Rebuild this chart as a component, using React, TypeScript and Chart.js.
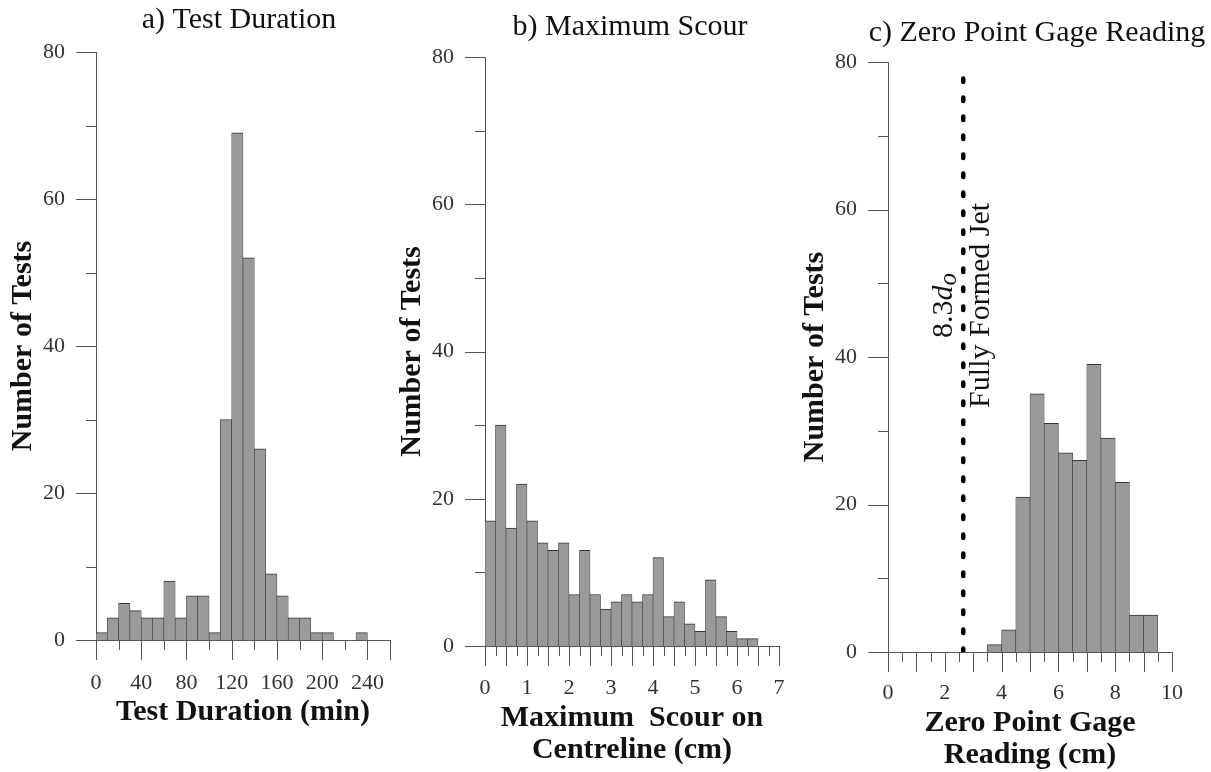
import React, { useEffect, useRef } from "react";
import { Chart, registerables } from "chart.js";

Chart.register(...registerables);

const PAGE_W = 1211;
const PAGE_H = 772;
const SERIF = '"Liberation Serif", "Times New Roman", serif';

// ---------- data ----------
// a) Test Duration: 10-min bins
const durationBinCentres = [5, 15, 25, 35, 45, 55, 65, 75, 85, 95, 105, 115, 125, 135, 145, 155, 165, 175, 185, 195, 205, 215, 225, 235, 245, 255];
const durationCounts = [1, 3, 5, 4, 3, 3, 8, 3, 6, 6, 1, 30, 69, 52, 26, 9, 6, 3, 3, 1, 1, 0, 0, 1, 0, 0];

// b) Maximum Scour: 0.25-cm bins
const scourBinCentres = [0.125, 0.375, 0.625, 0.875, 1.125, 1.375, 1.625, 1.875, 2.125, 2.375, 2.625, 2.875, 3.125, 3.375, 3.625, 3.875, 4.125, 4.375, 4.625, 4.875, 5.125, 5.375, 5.625, 5.875, 6.125, 6.375, 6.625, 6.875];
const scourCounts = [17, 30, 16, 22, 17, 14, 13, 14, 7, 13, 7, 5, 6, 7, 6, 7, 12, 4, 6, 3, 2, 9, 4, 2, 1, 1, 0, 0];

// c) Zero Point Gage Reading: 0.5-cm bins
const gageBinCentres = [0.25, 0.75, 1.25, 1.75, 2.25, 2.75, 3.25, 3.75, 4.25, 4.75, 5.25, 5.75, 6.25, 6.75, 7.25, 7.75, 8.25, 8.75, 9.25, 9.75];
const gageCounts = [0, 0, 0, 0, 0, 0, 0, 1, 3, 21, 35, 31, 27, 26, 39, 29, 23, 5, 5, 0];

// fully formed jet marker (8.3 d_o)
const jetMarkerX = 2.65;
const jetMarkerTop = 78;
const jetLabelY = 47;

// axis ranges / ticks
const countAxis = { min: 0, max: 80, step: 10, labelEvery: 20 };
const durationAxis = { min: 0, max: 260, step: 20, labelEvery: 40, majorEvery: 40 };
const scourAxis = { min: 0, max: 7, step: 0.25, labelEvery: 1, majorEvery: 0.5 };
const gageAxis = { min: 0, max: 10, step: 0.5, labelEvery: 2, majorEvery: 1 };

// ---------- styles ----------
const BAR_FILL = "#9a9a9a";
const BAR_EDGE = "#353535";
const AXIS_COLOR = "#555555";
const TICK_TEXT = "#333333";
const TEXT = "#111111";

const isMultiple = (v: number, m: number) => Math.abs(v / m - Math.round(v / m)) < 1e-6;

// draws long/short tick marks at every scale tick
const tickMarksPlugin = {
  id: "tickMarks",
  afterDraw(chart: any, _args: any, opts: any) {
    const { ctx, chartArea } = chart;
    const xs = chart.scales.x;
    const ys = chart.scales.y;
    ctx.save();
    ctx.strokeStyle = opts.color;
    ctx.lineWidth = 1;
    ctx.beginPath();
    xs.ticks.forEach((t: any) => {
      const px = Math.round(xs.getPixelForValue(t.value)) + 0.5;
      const major = isMultiple(t.value, opts.xMajor) || Math.abs(t.value - xs.max) < 1e-9;
      const len = major ? opts.long : opts.short;
      ctx.moveTo(px, chartArea.bottom);
      ctx.lineTo(px, chartArea.bottom + len);
    });
    ys.ticks.forEach((t: any) => {
      const py = Math.round(ys.getPixelForValue(t.value)) + 0.5;
      const len = isMultiple(t.value, opts.yMajor) ? opts.long : opts.short;
      ctx.moveTo(chartArea.left - len, py);
      ctx.lineTo(chartArea.left, py);
    });
    ctx.stroke();
    ctx.restore();
  },
};

// panel heading
const panelTitlePlugin = {
  id: "panelTitle",
  afterDraw(chart: any, _args: any, opts: any) {
    if (!opts.text) return;
    const { ctx } = chart;
    ctx.save();
    ctx.font = `normal 30px ${SERIF}`;
    ctx.fillStyle = TEXT;
    ctx.textAlign = "center";
    ctx.textBaseline = "middle";
    ctx.fillText(opts.text, opts.x, opts.y);
    ctx.restore();
  },
};

// rotated annotation next to the jet marker line
const jetLabelPlugin = {
  id: "jetLabel",
  afterDraw(chart: any, _args: any, opts: any) {
    if (!opts.show) return;
    const { ctx } = chart;
    const px = chart.scales.x.getPixelForValue(opts.value);
    const py = chart.scales.y.getPixelForValue(opts.yValue);
    ctx.save();
    ctx.fillStyle = TEXT;
    ctx.textBaseline = "middle";

    // "8.3 d_o" left of the line
    ctx.save();
    ctx.translate(px - 19, py);
    ctx.rotate(-Math.PI / 2);
    const f1 = `normal 30px ${SERIF}`;
    const f2 = `italic 30px ${SERIF}`;
    const f3 = `italic 25px ${SERIF}`;
    ctx.font = f1;
    const w1 = ctx.measureText("8.3").width;
    ctx.font = f2;
    const w2 = ctx.measureText("d").width;
    ctx.font = f3;
    const w3 = ctx.measureText("o").width;
    let cx = -(w1 + w2 + w3) / 2;
    ctx.textAlign = "left";
    ctx.font = f1;
    ctx.fillText("8.3", cx, 0);
    cx += w1;
    ctx.font = f2;
    ctx.fillText("d", cx, 0);
    cx += w2;
    ctx.font = f3;
    ctx.fillText("o", cx, 5);
    ctx.restore();

    // "Fully Formed Jet" right of the line
    ctx.save();
    ctx.translate(px + 18, py);
    ctx.rotate(-Math.PI / 2);
    ctx.font = `normal 30px ${SERIF}`;
    ctx.textAlign = "center";
    ctx.fillText("Fully Formed Jet", 0, 0);
    ctx.restore();

    ctx.restore();
  },
};

type PanelSpec = {
  centres: number[];
  counts: number[];
  xAxis: { min: number; max: number; step: number; labelEvery: number; majorEvery: number };
  padding: { left: number; right: number; top: number; bottom: number };
  yAxisWidth: number;
  yTitlePad: number;
  xAxisHeight: number;
  xTitle: string | string[];
  xTitlePad: number;
  xTickPad: number;
  title: { text: string; x: number; y: number };
  marker?: boolean;
};

function buildConfig(p: PanelSpec): any {
  const datasets: any[] = [
    {
      type: "bar",
      data: p.centres.map((c, i) => ({ x: c, y: p.counts[i] })),
      backgroundColor: BAR_FILL,
      borderColor: BAR_EDGE,
      borderWidth: { left: 0.6, right: 0.6, top: 1, bottom: 0 },
      borderSkipped: false,
      categoryPercentage: 1,
      barPercentage: 1,
    },
  ];
  if (p.marker) {
    datasets.push({
      type: "line",
      data: [
        { x: jetMarkerX, y: 0 },
        { x: jetMarkerX, y: jetMarkerTop },
      ],
      borderColor: "#000000",
      borderWidth: 4.5,
      borderDash: [3.5, 15.5],
      borderCapStyle: "round",
      pointRadius: 0,
      fill: false,
    });
  }

  return {
    type: "bar",
    data: { datasets },
    plugins: [tickMarksPlugin, panelTitlePlugin, jetLabelPlugin],
    options: {
      responsive: false,
      animation: false,
      layout: { padding: p.padding },
      plugins: {
        legend: { display: false },
        tooltip: { enabled: false },
        title: { display: false },
        tickMarks: { xMajor: p.xAxis.majorEvery, yMajor: countAxis.labelEvery, long: 20, short: 10, color: AXIS_COLOR },
        panelTitle: p.title,
        jetLabel: { show: !!p.marker, value: jetMarkerX, yValue: jetLabelY },
      },
      scales: {
        x: {
          type: "linear",
          min: p.xAxis.min,
          max: p.xAxis.max,
          offset: false,
          grid: { display: false, drawTicks: false, offset: false },
          border: { display: true, color: AXIS_COLOR, width: 1 },
          ticks: {
            stepSize: p.xAxis.step,
            autoSkip: false,
            maxRotation: 0,
            minRotation: 0,
            padding: p.xTickPad,
            color: TICK_TEXT,
            font: { family: SERIF, size: 22 },
            callback: (v: any) => (isMultiple(Number(v), p.xAxis.labelEvery) ? String(Number(v)) : ""),
          },
          title: {
            display: true,
            text: p.xTitle,
            color: TEXT,
            font: { family: SERIF, size: 30, weight: "bold", lineHeight: 1.07 },
            padding: { top: 0, bottom: p.xTitlePad },
          },
          afterFit: (s: any) => {
            s.height = p.xAxisHeight;
          },
        },
        y: {
          type: "linear",
          min: countAxis.min,
          max: countAxis.max,
          grid: { display: false, drawTicks: false },
          border: { display: true, color: AXIS_COLOR, width: 1 },
          ticks: {
            stepSize: countAxis.step,
            autoSkip: false,
            padding: 31,
            color: TICK_TEXT,
            font: { family: SERIF, size: 22 },
            callback: (v: any) => (isMultiple(Number(v), countAxis.labelEvery) ? String(Number(v)) : ""),
          },
          title: {
            display: true,
            text: "Number of Tests",
            color: TEXT,
            font: { family: SERIF, size: 30, weight: "bold", lineHeight: 1.2 },
            padding: { top: p.yTitlePad, bottom: 0 },
          },
          afterFit: (s: any) => {
            s.width = p.yAxisWidth;
          },
        },
      },
    },
  };
}

const panels: PanelSpec[] = [
  {
    centres: durationBinCentres,
    counts: durationCounts,
    xAxis: durationAxis,
    padding: { left: 0, right: 821, top: 52, bottom: 0 },
    yAxisWidth: 96,
    yTitlePad: 5,
    xAxisHeight: 132,
    xTitle: "Test Duration (min)",
    xTitlePad: 44,
    xTickPad: 30,
    title: { text: "a) Test Duration", x: 239, y: 20 },
  },
  {
    centres: scourBinCentres,
    counts: scourCounts,
    xAxis: scourAxis,
    padding: { left: 390, right: 432, top: 57, bottom: 0 },
    yAxisWidth: 95,
    yTitlePad: 4,
    xAxisHeight: 126,
    xTitle: ["Maximum  Scour on", "Centreline (cm)"],
    xTitlePad: 6,
    xTickPad: 29,
    title: { text: "b) Maximum Scour", x: 630, y: 27 },
  },
  {
    centres: gageBinCentres,
    counts: gageCounts,
    xAxis: gageAxis,
    padding: { left: 790, right: 28, top: 62, bottom: 0 },
    yAxisWidth: 98,
    yTitlePad: 7,
    xAxisHeight: 120,
    xTitle: ["Zero Point Gage", "Reading (cm)"],
    xTitlePad: 1,
    xTickPad: 28,
    title: { text: "c) Zero Point Gage Reading", x: 1037, y: 33 },
    marker: true,
  },
];

function Panel({ spec }: { spec: PanelSpec }) {
  const ref = useRef<HTMLCanvasElement>(null);
  useEffect(() => {
    if (!ref.current) return;
    const chart = new Chart(ref.current, buildConfig(spec));
    return () => chart.destroy();
  }, [spec]);
  return (
    <canvas
      ref={ref}
      width={PAGE_W}
      height={PAGE_H}
      style={{ position: "absolute", left: 0, top: 0, width: PAGE_W, height: PAGE_H }}
    />
  );
}

export default function App() {
  return (
    <div
      style={{
        position: "absolute",
        left: 0,
        top: 0,
        width: PAGE_W,
        height: PAGE_H,
        overflow: "hidden",
        background: "#ffffff",
      }}
    >
      {panels.map((p, i) => (
        <Panel key={i} spec={p} />
      ))}
    </div>
  );
}
